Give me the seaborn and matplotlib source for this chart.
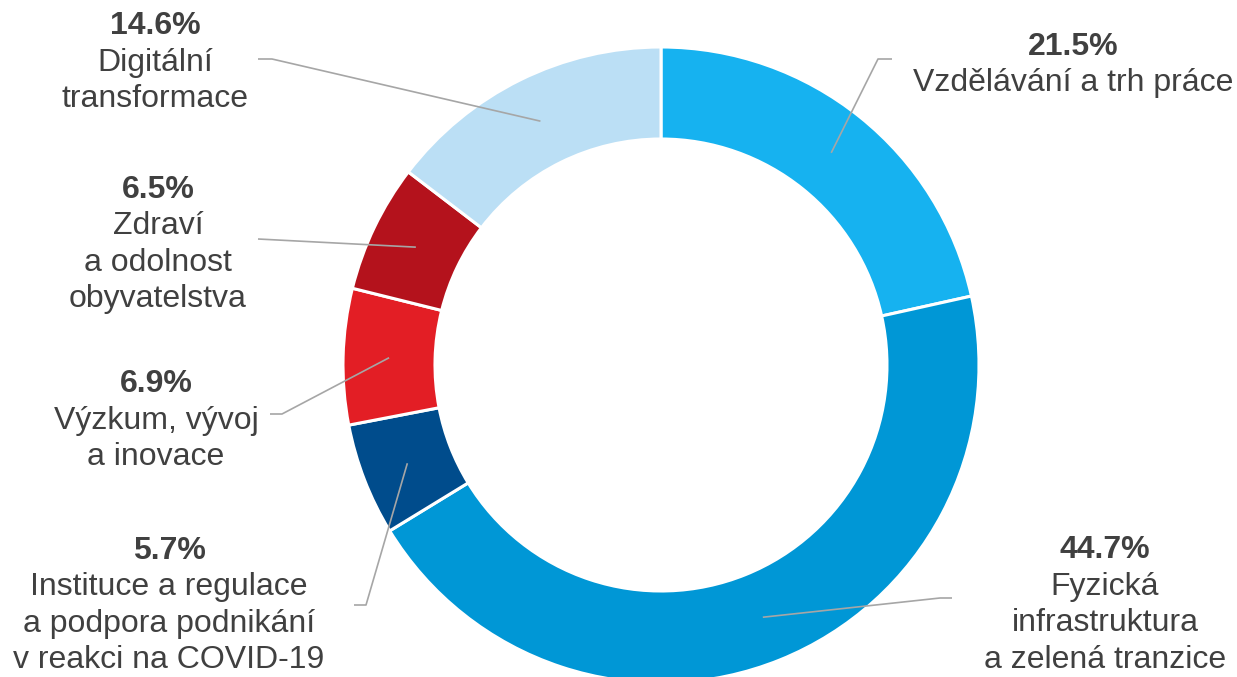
import numpy as np
import matplotlib.pyplot as plt
import seaborn as sns

# data
categories = [
    "Vzdělávání a trh práce",
    "Fyzická\ninfrastruktura\na zelená tranzice",
    "Instituce a regulace\na podpora podnikání\nv reakci na COVID-19",
    "Výzkum, vývoj\na inovace",
    "Zdraví\na odolnost\nobyvatelstva",
    "Digitální\ntransformace",
]
shares = [21.5, 44.7, 5.7, 6.9, 6.5, 14.6]
colors = ["#16B2F0", "#0097D6", "#004C8C", "#E31E25", "#B4121C", "#BBDFF5"]

# layout (pixel coords from top-left): label center x, first baseline y, leader elbow, leader end
label_pos = [(1073, 55), (1105, 558), (169, 559), (156, 392), (158, 198), (155, 34)]
elbows = [(878, 59), (940, 598), (366, 605), (282, 414), (258, 239), (272, 59)]
ends = [(892, 59), (952, 598), (354, 605), (270, 414), (258, 239), (258, 59)]

W, H = 1237, 677
cx, cy = 661, 365
r_out, r_in = 318, 226
text_color = "#404040"
line_color = "#A6A6A6"

sns.set_style("white")
plt.rcParams["font.family"] = ["Liberation Sans", "DejaVu Sans"]

fig = plt.figure(figsize=(W / 100, H / 100), dpi=100)
ax = fig.add_axes([0, 0, 1, 1])

wedges, _ = ax.pie(
    shares,
    colors=colors,
    startangle=90,
    counterclock=False,
    center=(cx, H - cy),
    radius=r_out,
    wedgeprops=dict(width=r_out - r_in, edgecolor="white", linewidth=2.2),
)

ax.set_xlim(0, W)
ax.set_ylim(0, H)
ax.set_aspect("equal")
ax.axis("off")

r_mid = (r_out + r_in) / 2
for w, val, name, (tx, ty), el, en in zip(wedges, shares, categories, label_pos, elbows, ends):
    # leader line from the middle of the ring segment
    ang = np.deg2rad((w.theta1 + w.theta2) / 2)
    sx = cx + r_mid * np.cos(ang)
    sy = (H - cy) + r_mid * np.sin(ang)
    ax.plot([sx, el[0], en[0]], [sy, H - el[1], H - en[1]],
            color=line_color, lw=1.2, solid_capstyle="butt", zorder=3)

    # label text
    ax.text(tx, H - ty, "{:.1f}%".format(val), ha="center", va="baseline",
            fontsize=23, fontweight="bold", color=text_color)
    for i, line in enumerate(name.split("\n")):
        ax.text(tx, H - ty - 36.5 * (i + 1), line, ha="center", va="baseline",
                fontsize=23, color=text_color)

fig.savefig("out.png", dpi=100)
